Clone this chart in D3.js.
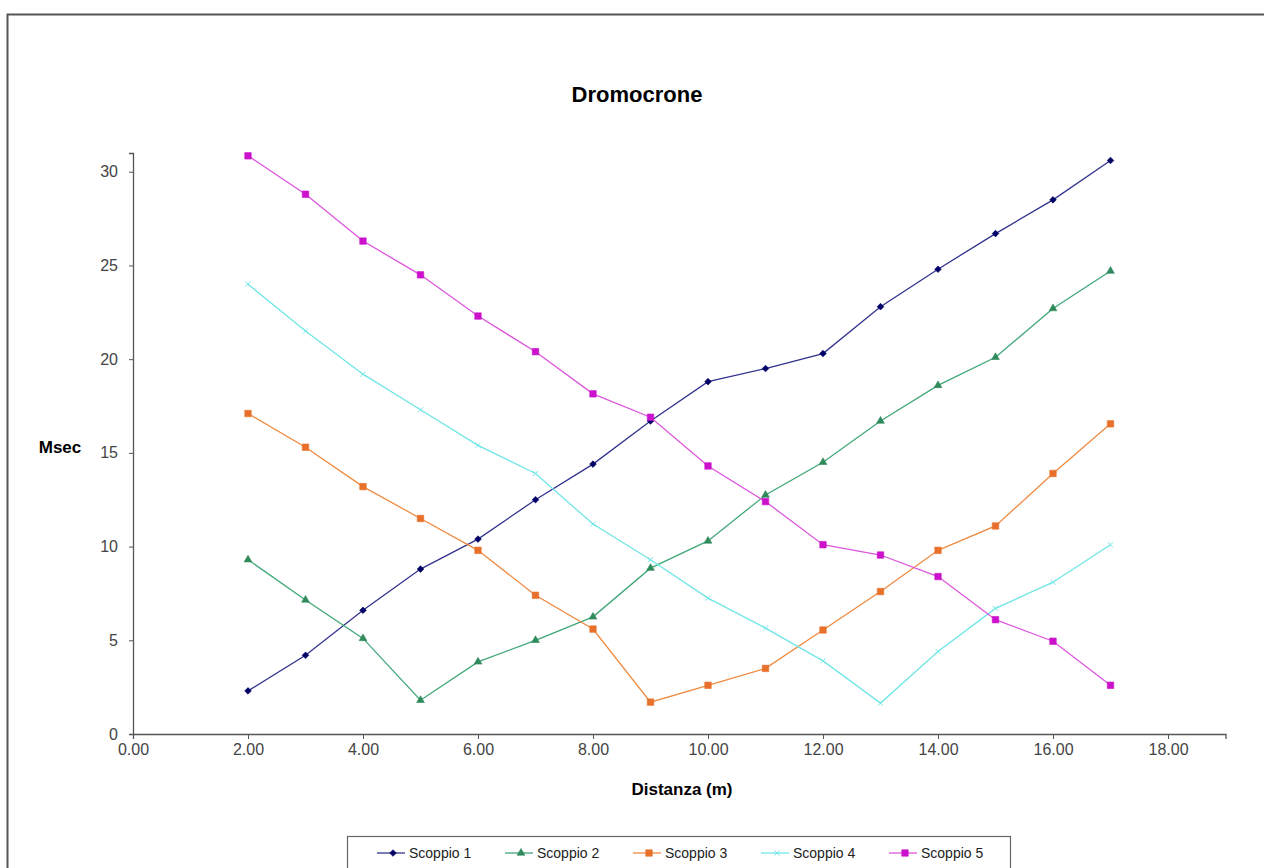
<!DOCTYPE html>
<html>
<head>
<meta charset="utf-8">
<script src="https://cdn.jsdelivr.net/npm/d3@7"></script>
<style>
  body { margin: 0; background: #fff; }
  svg { display: block; font-family: "Liberation Sans", Arial, sans-serif; }
</style>
</head>
<body>
<div id="container"></div>
<script>
// distances (m)
const distances = [2, 3, 4, 5, 6, 7, 8, 9, 10, 11, 12, 13, 14, 15, 16, 17];

// travel times (msec) per shot
const scoppio1 = [2.3, 4.2, 6.6, 8.8, 10.4, 12.5, 14.4, 16.7, 18.8, 19.5, 20.3, 22.8, 24.8, 26.7, 28.5, 30.6];
const scoppio2 = [9.3, 7.15, 5.1, 1.8, 3.85, 5.0, 6.25, 8.85, 10.3, 12.75, 14.5, 16.7, 18.6, 20.1, 22.7, 24.7];
const scoppio3 = [17.1, 15.3, 13.2, 11.5, 9.8, 7.4, 5.6, 1.7, 2.6, 3.5, 5.55, 7.6, 9.8, 11.1, 13.9, 16.55];
const scoppio4 = [24.0, 21.5, 19.2, 17.3, 15.4, 13.9, 11.2, 9.3, 7.25, 5.65, 3.9, 1.65, 4.4, 6.7, 8.1, 10.1];
const scoppio5 = [30.85, 28.8, 26.3, 24.5, 22.3, 20.4, 18.15, 16.9, 14.3, 12.4, 10.1, 9.55, 8.4, 6.1, 4.95, 2.6];

const seriesNames = ['Scoppio 1', 'Scoppio 2', 'Scoppio 3', 'Scoppio 4', 'Scoppio 5'];

// axis ticks
const xTicks = [0, 2, 4, 6, 8, 10, 12, 14, 16, 18];
const yTicks = [0, 5, 10, 15, 20, 25, 30];

// chart size
const width = 1264;
const height = 868;

// style for each series
const styles = [
    { line: '#33338f', fill: '#000066', symbol: 'diamond', size: 22 },
    { line: '#40a878', fill: '#2f8a5c', symbol: d3.symbolTriangle, size: 26 },
    { line: '#f08a40', fill: '#e8702a', symbol: d3.symbolSquare, size: 42 },
    { line: '#70e6e6', fill: '#70e6e6', symbol: null, size: 0 },
    { line: '#dd55dd', fill: '#cc11cc', symbol: d3.symbolSquare, size: 42 }
];

const allSeries = [scoppio1, scoppio2, scoppio3, scoppio4, scoppio5].map((vals, i) => ({
    name: seriesNames[i],
    style: styles[i],
    points: vals.map((v, j) => ({ x: distances[j], y: v }))
}));

const svg = d3.select('#container')
              .append('svg')
              .attr('width', width)
              .attr('height', height);

// outer chart frame
svg.append('rect')
   .attr('x', 7.5)
   .attr('y', 14.5)
   .attr('width', width + 20)
   .attr('height', height + 20)
   .attr('fill', '#fff')
   .attr('stroke', '#555')
   .attr('stroke-width', 2);

// scales
const xScale = d3.scaleLinear()
                 .domain([0, 19])
                 .range([133, 1225.5]);

const yScale = d3.scaleLinear()
                 .domain([0, 31])
                 .range([734, 153]);

// axes
const xAxis = svg.append('g')
                 .attr('transform', 'translate(0,734)')
                 .call(d3.axisBottom(xScale)
                         .tickValues(xTicks)
                         .tickFormat(d3.format('.2f'))
                         .tickSizeOuter(0)
                         .tickSize(5)
                         .tickPadding(5));

const yAxis = svg.append('g')
                 .attr('transform', 'translate(133,0)')
                 .call(d3.axisLeft(yScale)
                         .tickValues(yTicks)
                         .tickSizeOuter(0)
                         .tickSize(4)
                         .tickPadding(11));

[xAxis, yAxis].forEach(ax => {
    ax.select('.domain').attr('stroke', '#555').attr('stroke-width', 1.3);
    ax.selectAll('.tick line').attr('stroke', '#555');
    ax.selectAll('.tick text')
      .attr('fill', '#444')
      .style('font-size', '16px')
      .style('font-family', '"Liberation Sans", Arial, sans-serif');
});

// lines
const line = d3.line()
               .x(d => xScale(d.x))
               .y(d => yScale(d.y));

const groups = svg.selectAll('.series')
                  .data(allSeries)
                  .enter()
                  .append('g')
                  .attr('class', 'series');

groups.append('path')
      .attr('d', d => line(d.points))
      .attr('fill', 'none')
      .attr('stroke', d => d.style.line)
      .attr('stroke-width', 1.3);

// markers
function drawMarker(sel, style) {
    if (style.symbol === 'diamond') {
        // square turned 45 degrees, like the excel diamond
        sel.append('path')
           .attr('d', d3.symbol().type(d3.symbolSquare).size(style.size)())
           .attr('transform', 'rotate(45)')
           .attr('fill', style.fill)
           .attr('stroke', style.fill)
           .attr('stroke-width', 0.6);
    } else if (style.symbol) {
        sel.append('path')
           .attr('d', d3.symbol().type(style.symbol).size(style.size)())
           .attr('fill', style.fill)
           .attr('stroke', style.fill)
           .attr('stroke-width', 0.6);
    } else {
        // small cross for Scoppio 4
        sel.append('path')
           .attr('d', 'M-2.5,-2.5L2.5,2.5M-2.5,2.5L2.5,-2.5')
           .attr('stroke', style.fill)
           .attr('stroke-width', 1);
    }
}

groups.each(function(s) {
    d3.select(this).selectAll('.marker')
      .data(s.points)
      .enter()
      .append('g')
      .attr('class', 'marker')
      .attr('transform', d => `translate(${xScale(d.x)},${yScale(d.y)})`)
      .each(function() { drawMarker(d3.select(this), s.style); });
});

// title and axis labels
svg.append('text')
   .attr('x', 637)
   .attr('y', 102)
   .attr('text-anchor', 'middle')
   .style('font-size', '22px')
   .style('font-weight', 'bold')
   .text('Dromocrone');

svg.append('text')
   .attr('x', 60)
   .attr('y', 453)
   .attr('text-anchor', 'middle')
   .style('font-size', '17px')
   .style('font-weight', 'bold')
   .text('Msec');

svg.append('text')
   .attr('x', 682)
   .attr('y', 795)
   .attr('text-anchor', 'middle')
   .style('font-size', '17px')
   .style('font-weight', 'bold')
   .text('Distanza (m)');

// legend
const legend = svg.append('g');

legend.append('rect')
      .attr('x', 347.5)
      .attr('y', 836.5)
      .attr('width', 663)
      .attr('height', 60)
      .attr('fill', '#fff')
      .attr('stroke', '#666')
      .attr('stroke-width', 1.2);

const legendX = d3.scalePoint()
                  .domain(seriesNames)
                  .range([377, 889]);

const items = legend.selectAll('.item')
                    .data(allSeries)
                    .enter()
                    .append('g')
                    .attr('class', 'item')
                    .attr('transform', d => `translate(${legendX(d.name)},853)`);

items.append('line')
     .attr('x1', 0)
     .attr('x2', 28)
     .attr('stroke', d => d.style.line)
     .attr('stroke-width', 1.3);

items.each(function(s) {
    const m = d3.select(this).append('g').attr('transform', 'translate(16,0)');
    drawMarker(m, s.style);
});

items.append('text')
     .attr('x', 32)
     .attr('y', 5)
     .style('font-size', '14px')
     .attr('fill', '#222')
     .text(d => d.name);
</script>
</body>
</html>
